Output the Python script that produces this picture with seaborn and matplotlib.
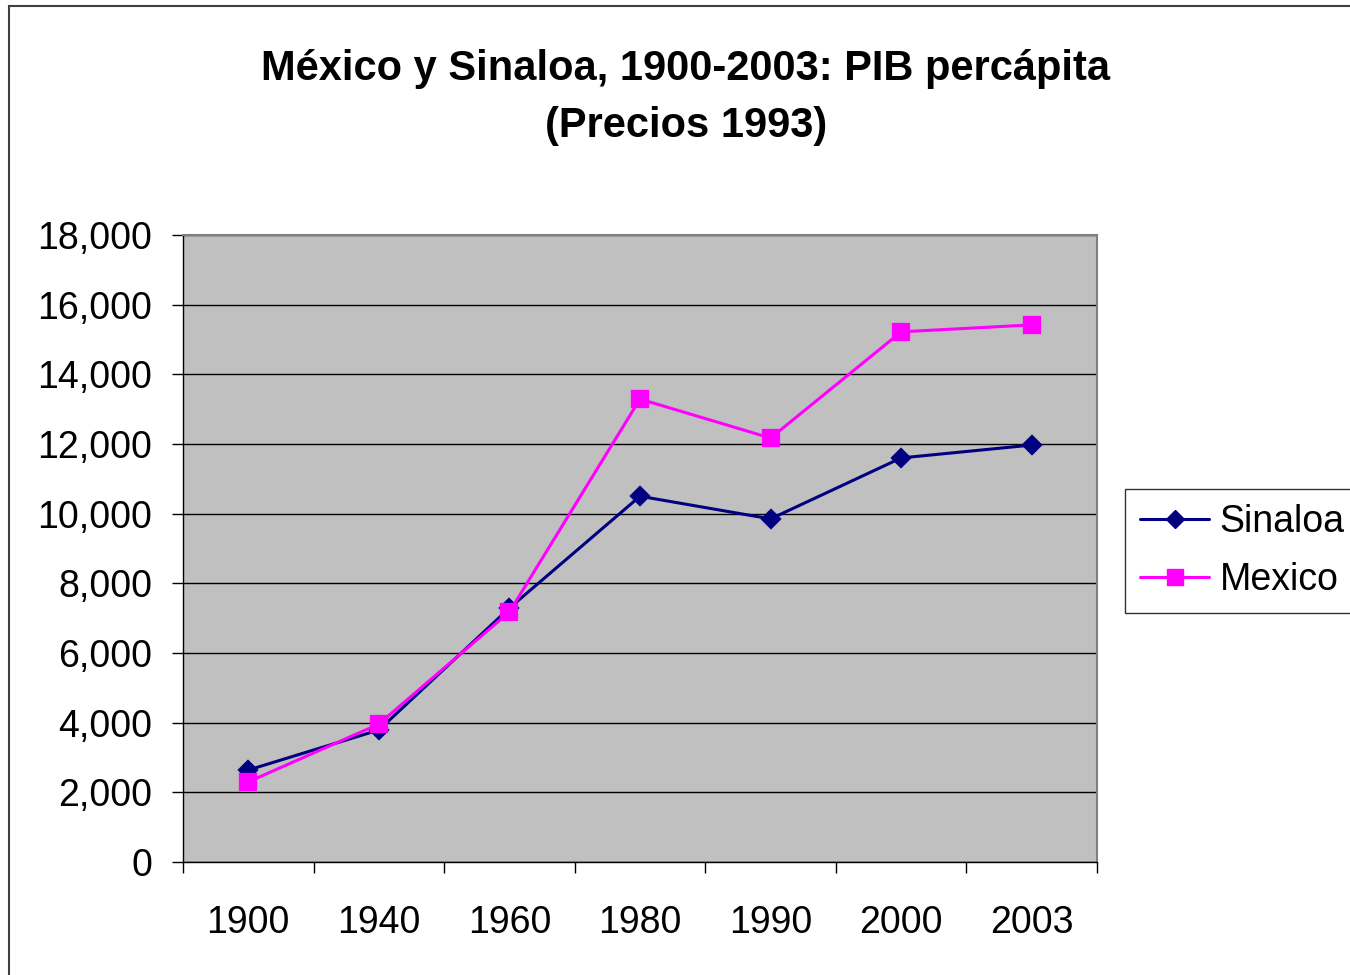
import matplotlib
matplotlib.use("Agg")
import matplotlib.pyplot as plt
from matplotlib.lines import Line2D
from matplotlib.patches import Rectangle
import seaborn as sns
import pandas as pd
import numpy as np

years = ["1900", "1940", "1960", "1980", "1990", "2000", "2003"]
sinaloa = [2640, 3790, 7290, 10500, 9850, 11600, 11970]
mexico = [2300, 3960, 7180, 13290, 12170, 15220, 15420]
series_names = ["Sinaloa", "Mexico"]
y_ticks = [0, 2000, 4000, 6000, 8000, 10000, 12000, 14000, 16000, 18000]

df = pd.DataFrame({
    "year": years * 2,
    "value": sinaloa + mexico,
    "series": ["Sinaloa"] * len(years) + ["Mexico"] * len(years),
})

sns.set_theme(style="white")
plt.rcParams["font.family"] = ["Liberation Sans", "DejaVu Sans"]
plt.rcParams["text.color"] = "black"
plt.rcParams["xtick.color"] = "black"
plt.rcParams["ytick.color"] = "black"

fig = plt.figure(figsize=(13.5, 9.75), dpi=100)
ax = fig.add_axes([183/1350, 1-862/975, (1097-183)/1350, (862-235)/975])
ax.set_facecolor("#C0C0C0")

colors = {"Sinaloa": "#000080", "Mexico": "#FF00FF"}
sns.pointplot(data=df, x="year", y="value", hue="series", order=years,
              hue_order=series_names, palette=colors, markers=["D", "s"],
              linestyles=["-", "-"], errorbar=None, ax=ax, legend=False,
              linewidth=2.2, markersize=9)
for ln in ax.lines:
    if ln.get_marker() == "s":
        ln.set_markersize(11)
    elif ln.get_marker() == "D":
        ln.set_markersize(9)

ax.set_xlim(-0.5, len(years) - 0.5)
ax.set_ylim(0, 18000)
ax.set_yticks(y_ticks)
ax.set_yticklabels([f"{v:,}" for v in y_ticks])
ax.yaxis.grid(True, color="black", linewidth=1.0)
ax.xaxis.grid(False)
ax.set_axisbelow(True)

ax.set_xticks(range(len(years)))
ax.set_xticklabels(years)
ax.set_xticks(np.arange(-0.5, len(years)), minor=True)
ax.tick_params(axis="x", which="major", length=0, pad=31, labelsize=27, labelcolor="black")
ax.tick_params(axis="x", which="minor", length=8, width=1, color="black", direction="out", bottom=True)
ax.tick_params(axis="y", which="major", length=8, width=1, color="black", direction="out",
               left=True, pad=14, labelsize=27, labelcolor="black")
ax.set_xlabel("")
ax.set_ylabel("")

for side in ["top", "right"]:
    ax.spines[side].set_color("#808080")
    ax.spines[side].set_linewidth(1.5)
for side in ["left", "bottom"]:
    ax.spines[side].set_color("black")
    ax.spines[side].set_linewidth(1.0)

fig.text(686/1350, 1-69/975, "México y Sinaloa, 1900-2003: PIB percápita",
         ha="center", va="center", fontsize=30, fontweight="bold", color="black")
fig.text(686/1350, 1-126/975, "(Precios 1993)",
         ha="center", va="center", fontsize=30, fontweight="bold", color="black")

handles = [Line2D([0], [0], color=colors["Sinaloa"], marker="D", markersize=9, linewidth=2.2),
           Line2D([0], [0], color=colors["Mexico"], marker="s", markersize=11, linewidth=2.2)]
leg = fig.legend(handles, series_names, loc="upper left",
                 bbox_to_anchor=(1125/1350, 1-489/975), fontsize=27,
                 frameon=True, fancybox=False, edgecolor="black",
                 handlelength=1.85, handletextpad=0.27, borderpad=0.4,
                 labelspacing=0.58, borderaxespad=0)
leg.get_frame().set_linewidth(1.0)
for t in leg.get_texts():
    t.set_color("black")

fig.patches.append(Rectangle((9/1350, -0.1), 1.2, 1.1 - 6/975,
                             transform=fig.transFigure, fill=False,
                             edgecolor="#404040", linewidth=1.5))

fig.savefig("out.png", dpi=100)
